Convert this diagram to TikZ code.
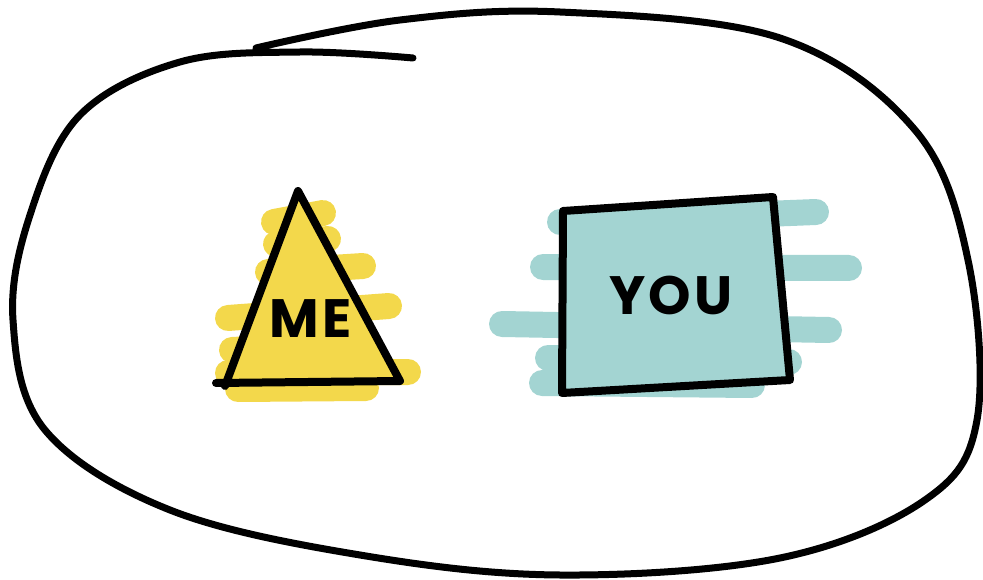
\documentclass[tikz,border=0pt]{standalone}
\usepackage{fontspec}
\setmainfont{Poppins}[LetterSpace=6]
\definecolor{ylw}{HTML}{F3D84B}
\definecolor{teal}{HTML}{A3D4D2}
\begin{document}
\begin{tikzpicture}[x=1pt,y=-1pt,
  ink/.style={line width=8pt,line cap=round,line join=round,black},
  ybrush/.style={line width=26pt,line cap=round,ylw},
  tbrush/.style={line width=26pt,line cap=round,teal},
  lbl/.style={font=\fontsize{54}{60}\selectfont\bfseries,text=black,inner sep=0pt}]
\useasboundingbox (0,0) rectangle (983,580);
% yellow scribbles
\draw[ybrush] (274,222) -- (323,213);
\draw[ybrush] (276,244) -- (328,239);
\draw[ybrush] (268,272) -- (363,266);
\draw[ybrush] (228,318) -- (389,306);
\draw[ybrush] (232,350) -- (366,343);
\draw[ybrush] (228,373) -- (408,372);
\draw[ybrush] (238,389) -- (366,388);
% teal scribbles
\draw[tbrush] (560,222) -- (816,212);
\draw[tbrush] (590,250) -- (768,252);
\draw[tbrush] (543,267) -- (849,268);
\draw[tbrush] (595,298) -- (762,302);
\draw[tbrush] (502,324) -- (829,330);
\draw[tbrush] (548,358) -- (789,362);
\draw[tbrush] (542,383) -- (752,385);
% shapes
\coordinate (tA) at (298,191);
\coordinate (tB) at (225,386);
\coordinate (tC) at (400,381);
\coordinate (tL) at (216,383);
\fill[ylw] (tA) -- (tB) -- (tC) -- cycle;
\draw[ink] (tB) -- (tA) -- (tC) -- (tL);
\coordinate (sA) at (563,211);
\coordinate (sB) at (773,197);
\coordinate (sC) at (790,380);
\coordinate (sD) at (562,393);
\fill[teal] (sA) -- (sB) -- (sC) -- (sD) -- cycle;
\draw[ink] (sA) -- (sB) -- (sC) -- (sD) -- cycle;
\node[lbl] (me) at (311,319) {ME};
\node[lbl] (you) at (671,295) {YOU};
% outer loop
\draw[line width=7pt,line cap=round,black] plot[smooth,tension=0.6] coordinates {
 (413,58) (300,52) (180,62) (80,115) (30,215) (13,320) (45,430) (170,510)
 (360,555) (560,575) (780,558) (925,500) (977,420) (968,260) (915,130)
 (780,38) (560,12) (400,20) (256,48)};
\end{tikzpicture}
\end{document}
